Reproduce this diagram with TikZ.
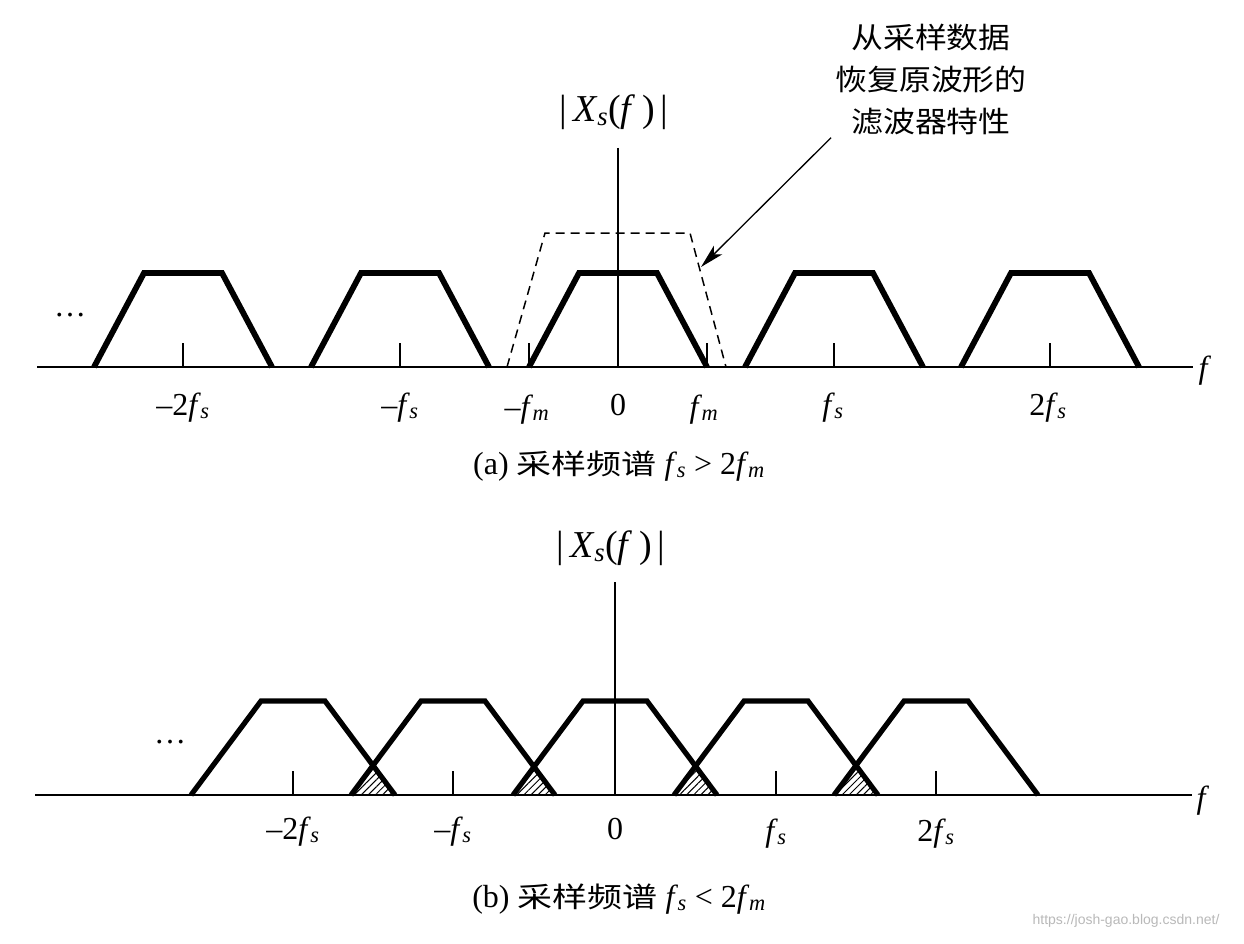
\documentclass[tikz,border=0pt]{standalone}
\usepackage{fontspec}
\setmainfont{Liberation Serif}
\newfontfamily\cjk[FakeStretch=1.1]{Noto Sans CJK SC}
\newfontfamily\cjkwide[FakeStretch=1.25]{Noto Sans CJK SC}
\newfontfamily\wmfont{Liberation Sans}
\usetikzlibrary{arrows.meta,patterns.meta}
\newcommand\ff{\textit{f}}
\newcommand\sbs[1]{\textsubscript{\kern-0.5pt\textit{#1}}}
\begin{document}
\begin{tikzpicture}[x=1pt,y=-1pt,
  spec/.style={line width=5.8pt, line join=miter},
  specb/.style={line width=5.2pt, line join=miter},
  axisline/.style={line width=2.6pt},
  vaxis/.style={line width=2.2pt},
  tickline/.style={line width=1.2pt},
  filt/.style={line width=1.5pt, dash pattern=on 9pt off 6pt},
  lbl/.style={inner sep=0pt, anchor=base, font=\fontsize{32}{36}\selectfont},
  captxt/.style={inner sep=0pt, anchor=base, font=\fontsize{32}{36}\selectfont},
  mag/.style={inner sep=0pt, font=\fontsize{38}{40}\selectfont},
  notetxt/.style={inner sep=2pt, align=center, font=\cjk\fontsize{29}{42}\selectfont},
  hatch/.style={pattern={Lines[angle=45,distance=5pt,line width=1pt]}}
]
\fill[white] (0,0) rectangle (1244,944);
\useasboundingbox (0,0) rectangle (1244,944);

% ---------- panel (a) ----------
\draw[axisline] (37,367) -- (1193,367);
\foreach \c in {183,400,618,834,1050}
  \draw[spec] ({\c-89},367) -- ({\c-39},273) -- ({\c+39},273) -- ({\c+89},367);
\foreach \c in {183,400,834,1050,529,707}
  \draw[tickline] (\c,343) -- (\c,367);
\draw[filt] (507,367) -- (545,233) -- (690,233) -- (726,367);
\draw[vaxis] (618,148) -- (618,367);

\node[mag] (magA) at (614,112) {|\,\textit{X}\sbs{s}(\textit{f}\,)\,|};
\node[lbl] (dotsA) at (70,316) {\dots};
\node[lbl] (a1) at (183,415) {\textendash2\ff\sbs{s}};
\node[lbl] (a2) at (400,415) {\textendash\ff\sbs{s}};
\node[lbl] (a3) at (527,417) {\textendash\ff\sbs{m}};
\node[lbl] (a4) at (618,415) {0};
\node[lbl] (a5) at (704,417) {\ff\sbs{m}};
\node[lbl] (a6) at (833,415) {\ff\sbs{s}};
\node[lbl] (a7) at (1048,415) {2\ff\sbs{s}};
\node[lbl] (fA) at (1205,378) {\ff};

\node[notetxt] (noteA) at (931,80) {从采样数据\\恢复原波形的\\滤波器特性};
\coordinate (tip) at (701,267);
\draw[line width=1.3pt, -{Stealth[length=24pt,width=12pt,inset=6pt]}] ([xshift=-2pt]noteA.south west) -- (tip);

\node[captxt] (capA) at (619,474) {(a) {\cjkwide\fontsize{28}{34}\selectfont 采样频谱} \ff\sbs{s} > 2\ff\sbs{m}};

% ---------- panel (b) ----------
\foreach \c/\d in {293/453,453/615,615/776,776/936}
  \fill[hatch] ({\d-102},795) -- ({(\c+\d)/2},766) -- ({\c+102},795) -- cycle;
\draw[axisline] (35,795) -- (1192,795);
\foreach \c in {293,453,615,776,936}
  \draw[specb] ({\c-102},795) -- ({\c-32},701) -- ({\c+32},701) -- ({\c+102},795);
\foreach \c in {293,453,776,936}
  \draw[tickline] (\c,771) -- (\c,795);
\draw[vaxis] (615,582) -- (615,795);

\node[mag] (magB) at (611,548) {|\,\textit{X}\sbs{s}(\textit{f}\,)\,|};
\node[lbl] (dotsB) at (170,743) {\dots};
\node[lbl] (b1) at (293,839) {\textendash2\ff\sbs{s}};
\node[lbl] (b2) at (453,839) {\textendash\ff\sbs{s}};
\node[lbl] (b3) at (615,839) {0};
\node[lbl] (b4) at (776,841) {\ff\sbs{s}};
\node[lbl] (b5) at (936,841) {2\ff\sbs{s}};
\node[lbl] (fB) at (1203,808) {\ff};

\node[captxt] (capB) at (619,907) {(b) {\cjkwide\fontsize{28}{34}\selectfont 采样频谱} \ff\sbs{s} < 2\ff\sbs{m}};

\node[inner sep=0pt, font=\wmfont\fontsize{14}{16}\selectfont, text=gray!55] (wm) at (1126,921) {https://josh-gao.blog.csdn.net/};
\end{tikzpicture}
\end{document}
